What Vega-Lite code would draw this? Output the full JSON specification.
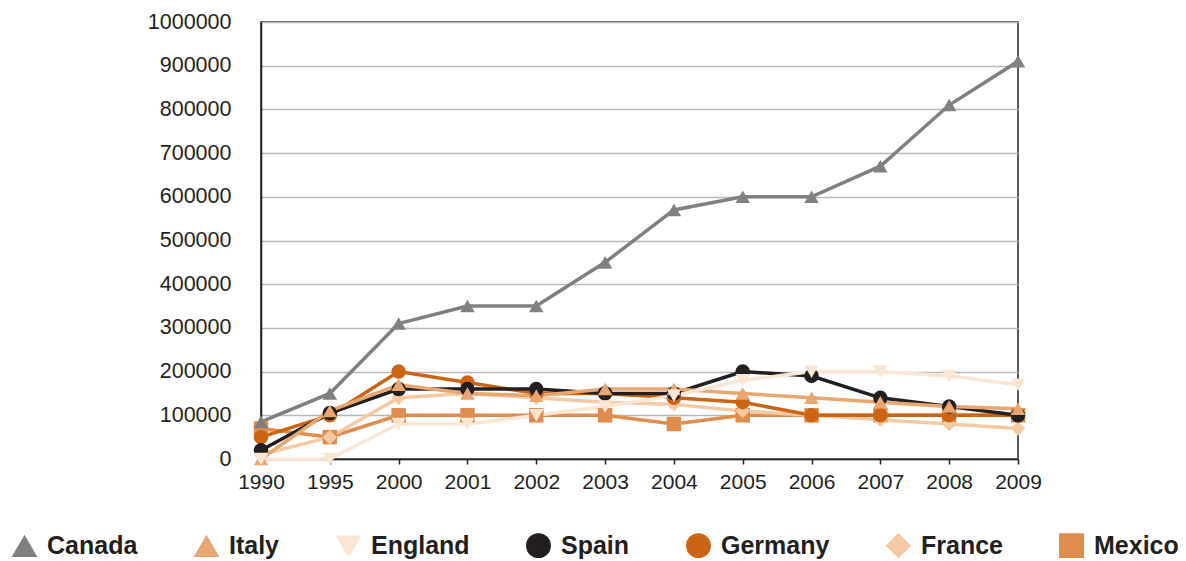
{
  "$schema": "https://vega.github.io/schema/vega-lite/v6.json",
  "width": 757,
  "height": 437,
  "autosize": "none",
  "padding": {"left": 261, "top": 22, "right": 168, "bottom": 102},
  "background": "white",
  "config": {
    "view": {"stroke": "#231f20", "strokeWidth": 1.5},
    "font": "Liberation Sans",
    "legend": {
      "title": null,
      "orient": "none",
      "legendX": -249,
      "legendY": 511,
      "direction": "horizontal",
      "columns": 7,
      "columnPadding": 54,
      "labelFontSize": 25,
      "labelFontWeight": "bold",
      "labelColor": "#231f20",
      "labelOffset": 10,
      "symbolSize": 560,
      "symbolStrokeWidth": 1.2
    }
  },
  "data": {
    "values": [
      {"country": "Mexico", "year": "1990", "value": 70000},
      {"country": "Mexico", "year": "1995", "value": 50000},
      {"country": "Mexico", "year": "2000", "value": 100000},
      {"country": "Mexico", "year": "2001", "value": 100000},
      {"country": "Mexico", "year": "2002", "value": 100000},
      {"country": "Mexico", "year": "2003", "value": 100000},
      {"country": "Mexico", "year": "2004", "value": 80000},
      {"country": "Mexico", "year": "2005", "value": 100000},
      {"country": "Mexico", "year": "2006", "value": 100000},
      {"country": "Mexico", "year": "2007", "value": 100000},
      {"country": "Mexico", "year": "2008", "value": 100000},
      {"country": "Mexico", "year": "2009", "value": 100000},
      {"country": "France", "year": "1990", "value": 10000},
      {"country": "France", "year": "1995", "value": 50000},
      {"country": "France", "year": "2000", "value": 140000},
      {"country": "France", "year": "2001", "value": 150000},
      {"country": "France", "year": "2002", "value": 140000},
      {"country": "France", "year": "2003", "value": 130000},
      {"country": "France", "year": "2004", "value": 125000},
      {"country": "France", "year": "2005", "value": 110000},
      {"country": "France", "year": "2006", "value": 100000},
      {"country": "France", "year": "2007", "value": 90000},
      {"country": "France", "year": "2008", "value": 80000},
      {"country": "France", "year": "2009", "value": 70000},
      {"country": "Germany", "year": "1990", "value": 50000},
      {"country": "Germany", "year": "1995", "value": 100000},
      {"country": "Germany", "year": "2000", "value": 200000},
      {"country": "Germany", "year": "2001", "value": 175000},
      {"country": "Germany", "year": "2002", "value": 150000},
      {"country": "Germany", "year": "2003", "value": 150000},
      {"country": "Germany", "year": "2004", "value": 140000},
      {"country": "Germany", "year": "2005", "value": 130000},
      {"country": "Germany", "year": "2006", "value": 100000},
      {"country": "Germany", "year": "2007", "value": 100000},
      {"country": "Germany", "year": "2008", "value": 100000},
      {"country": "Germany", "year": "2009", "value": 100000},
      {"country": "Spain", "year": "1990", "value": 20000},
      {"country": "Spain", "year": "1995", "value": 105000},
      {"country": "Spain", "year": "2000", "value": 160000},
      {"country": "Spain", "year": "2001", "value": 160000},
      {"country": "Spain", "year": "2002", "value": 160000},
      {"country": "Spain", "year": "2003", "value": 150000},
      {"country": "Spain", "year": "2004", "value": 150000},
      {"country": "Spain", "year": "2005", "value": 200000},
      {"country": "Spain", "year": "2006", "value": 190000},
      {"country": "Spain", "year": "2007", "value": 140000},
      {"country": "Spain", "year": "2008", "value": 120000},
      {"country": "Spain", "year": "2009", "value": 100000},
      {"country": "Italy", "year": "1990", "value": 0},
      {"country": "Italy", "year": "1995", "value": 110000},
      {"country": "Italy", "year": "2000", "value": 170000},
      {"country": "Italy", "year": "2001", "value": 150000},
      {"country": "Italy", "year": "2002", "value": 145000},
      {"country": "Italy", "year": "2003", "value": 160000},
      {"country": "Italy", "year": "2004", "value": 160000},
      {"country": "Italy", "year": "2005", "value": 150000},
      {"country": "Italy", "year": "2006", "value": 140000},
      {"country": "Italy", "year": "2007", "value": 130000},
      {"country": "Italy", "year": "2008", "value": 120000},
      {"country": "Italy", "year": "2009", "value": 115000},
      {"country": "England", "year": "1990", "value": 0},
      {"country": "England", "year": "1995", "value": 0},
      {"country": "England", "year": "2000", "value": 80000},
      {"country": "England", "year": "2001", "value": 80000},
      {"country": "England", "year": "2002", "value": 100000},
      {"country": "England", "year": "2003", "value": 120000},
      {"country": "England", "year": "2004", "value": 145000},
      {"country": "England", "year": "2005", "value": 180000},
      {"country": "England", "year": "2006", "value": 200000},
      {"country": "England", "year": "2007", "value": 200000},
      {"country": "England", "year": "2008", "value": 190000},
      {"country": "England", "year": "2009", "value": 170000},
      {"country": "Canada", "year": "1990", "value": 85000},
      {"country": "Canada", "year": "1995", "value": 150000},
      {"country": "Canada", "year": "2000", "value": 310000},
      {"country": "Canada", "year": "2001", "value": 350000},
      {"country": "Canada", "year": "2002", "value": 350000},
      {"country": "Canada", "year": "2003", "value": 450000},
      {"country": "Canada", "year": "2004", "value": 570000},
      {"country": "Canada", "year": "2005", "value": 600000},
      {"country": "Canada", "year": "2006", "value": 600000},
      {"country": "Canada", "year": "2007", "value": 670000},
      {"country": "Canada", "year": "2008", "value": 810000},
      {"country": "Canada", "year": "2009", "value": 910000}
    ]
  },
  "encoding": {
    "x": {
      "field": "year",
      "type": "ordinal",
      "sort": null,
      "scale": {"type": "point", "padding": 0},
      "axis": {
        "title": null,
        "labelAngle": 0,
        "labelFontSize": 21,
        "labelColor": "#231f20",
        "labelPadding": 7,
        "tickSize": 5,
        "tickWidth": 1.5,
        "tickColor": "#231f20",
        "domainColor": "#231f20",
        "domainWidth": 1.5,
        "grid": false
      }
    },
    "y": {
      "field": "value",
      "type": "quantitative",
      "scale": {"domain": [0, 1000000], "nice": false},
      "axis": {
        "title": null,
        "values": [0, 100000, 200000, 300000, 400000, 500000, 600000, 700000, 800000, 900000, 1000000],
        "format": "d",
        "labelFontSize": 21.5,
        "labelColor": "#231f20",
        "labelPadding": 30,
        "ticks": false,
        "domainColor": "#231f20",
        "domainWidth": 1.5,
        "gridColor": "#b8b8b8",
        "gridWidth": 1.5
      }
    },
    "color": {
      "field": "country",
      "type": "nominal",
      "scale": {
        "domain": ["Canada", "Italy", "England", "Spain", "Germany", "France", "Mexico"],
        "range": ["#808083", "#e8a671", "#fbe5d3", "#231f20", "#cc6415", "#f5c9a4", "#df8d4e"]
      }
    }
  },
  "layer": [
    {
      "mark": {"type": "line", "strokeWidth": 3.5},
      "encoding": {
        "order": {"field": "year"}
      }
    },
    {
      "mark": {"type": "point", "filled": true, "opacity": 1, "size": 210},
      "encoding": {
        "shape": {
          "field": "country",
          "type": "nominal",
          "scale": {
            "domain": ["Canada", "Italy", "England", "Spain", "Germany", "France", "Mexico"],
            "range": ["triangle-up", "triangle-up", "triangle-down", "circle", "circle", "diamond", "square"]
          }
        },
        "stroke": {
          "field": "country",
          "type": "nominal",
          "scale": {
            "domain": ["Canada", "Italy", "England", "Spain", "Germany", "France", "Mexico"],
            "range": ["#231f20", "#231f20", "#231f20", "#231f20", "#231f20", "#231f20", "#231f20"]
          }
        },
        "strokeWidth": {"value": 0}
      }
    }
  ]
}
